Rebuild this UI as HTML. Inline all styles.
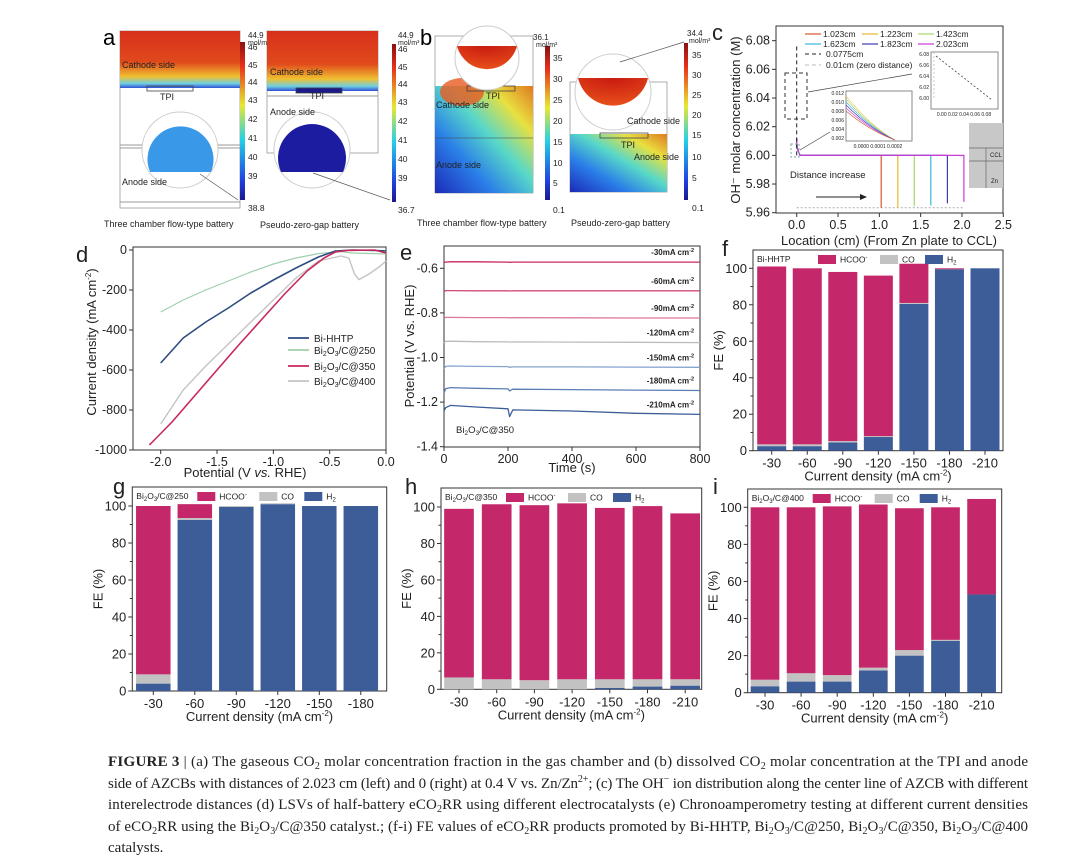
<!DOCTYPE html>
<html><head><meta charset="utf-8">
<style>
html,body{margin:0;padding:0;background:#fff;}
svg{display:block;font-family:"Liberation Sans",sans-serif;}
</style></head>
<body>
<svg id="fig" width="1080" height="867" viewBox="0 0 1080 867" xmlns="http://www.w3.org/2000/svg">
<defs>
<linearGradient id="jet" x1="0" y1="1" x2="0" y2="0">
<stop offset="0" stop-color="#1a1a8c"/><stop offset="0.12" stop-color="#1f3fe0"/><stop offset="0.38" stop-color="#22d0e8"/><stop offset="0.6" stop-color="#e8e830"/><stop offset="0.85" stop-color="#e8301a"/><stop offset="1" stop-color="#8a1010"/>
</linearGradient>
<linearGradient id="gA" x1="0" y1="0" x2="0" y2="1">
<stop offset="0" stop-color="#d8301c"/><stop offset="0.55" stop-color="#e04a1c"/><stop offset="0.8" stop-color="#f0c030"/><stop offset="0.92" stop-color="#70d0e0"/><stop offset="1" stop-color="#3050d8"/>
</linearGradient>
<linearGradient id="gB" x1="0" y1="1" x2="1" y2="0">
<stop offset="0" stop-color="#1c2ab8"/><stop offset="0.3" stop-color="#2a7ee8"/><stop offset="0.55" stop-color="#58d8c8"/><stop offset="0.78" stop-color="#e8e040"/><stop offset="1" stop-color="#e07a20"/>
</linearGradient>
<radialGradient id="gRed" cx="0.5" cy="0" r="1"><stop offset="0" stop-color="#c81a10"/><stop offset="1" stop-color="#e8501a"/></radialGradient>
</defs>

<!-- Panel a -->
<g>
<text x="103" y="45" font-size="22">a</text>
<rect x="120" y="31" width="120" height="177" fill="#fff" stroke="#999" stroke-width="0.8"/>
<rect x="120" y="31" width="120" height="57" fill="url(#gA)"/>
<line x1="120" y1="145" x2="240" y2="145" stroke="#999"/><line x1="120" y1="148" x2="240" y2="148" stroke="#999"/>
<line x1="120" y1="202" x2="240" y2="202" stroke="#999"/>
<rect x="147" y="86" width="46" height="5" fill="none" stroke="#444" stroke-width="0.8"/>
<circle cx="180" cy="150" r="38" fill="#fff" stroke="#ccc"/>
<path d="M150,172 A33,33 0 1 1 211,172 Z" fill="#3a98e8"/>
<line x1="200" y1="174" x2="238" y2="200" stroke="#555" stroke-width="0.7"/>
<text x="122" y="68" font-size="9" fill="#222">Cathode side</text>
<text x="160" y="100" font-size="9" fill="#222">TPI</text>
<text x="122" y="185" font-size="9" fill="#222">Anode side</text>
<rect x="240" y="42" width="5" height="158" fill="url(#jet)"/>
<text x="248" y="38" font-size="8" fill="#222">44.9</text><text x="248" y="45" font-size="7" fill="#222">mol/m³</text>
<g font-size="8.5" fill="#222"><text x="248" y="50">46</text><text x="248" y="68">45</text><text x="248" y="85">44</text><text x="248" y="103">43</text><text x="248" y="122">42</text><text x="248" y="141">41</text><text x="248" y="160">40</text><text x="248" y="179">39</text><text x="248" y="211">38.8</text></g>
<rect x="267" y="31" width="111" height="122" fill="#fff" stroke="#999" stroke-width="0.8"/>
<rect x="267" y="31" width="111" height="60" fill="url(#gA)"/>
<line x1="267" y1="96" x2="378" y2="96" stroke="#999"/>
<rect x="296" y="88" width="46" height="5" fill="#1a1a8c" stroke="#444" stroke-width="0.8"/>
<circle cx="312" cy="150" r="38" fill="#fff" stroke="#ccc"/>
<path d="M281,172 A34,34 0 1 1 343,172 Z" fill="#1c1ca0"/>
<line x1="313" y1="173" x2="390" y2="200" stroke="#555" stroke-width="0.7"/>
<text x="270" y="75" font-size="9" fill="#222">Cathode side</text>
<text x="310" y="99" font-size="9" fill="#222">TPI</text>
<text x="270" y="115" font-size="9" fill="#222">Anode side</text>
<rect x="392" y="44" width="4" height="158" fill="url(#jet)"/>
<text x="398" y="38" font-size="8" fill="#222">44.9</text><text x="398" y="45" font-size="7" fill="#222">mol/m³</text>
<g font-size="8.5" fill="#222"><text x="398" y="52">46</text><text x="398" y="70">45</text><text x="398" y="87">44</text><text x="398" y="105">43</text><text x="398" y="124">42</text><text x="398" y="143">41</text><text x="398" y="162">40</text><text x="398" y="181">39</text><text x="398" y="213">36.7</text></g>
<text x="104" y="227" font-size="9" fill="#222">Three chamber flow-type battery</text>
<text x="260" y="228" font-size="9" fill="#222">Pseudo-zero-gap battery</text>
</g>

<!-- Panel b -->
<g>
<text x="420" y="45" font-size="22">b</text>
<rect x="435" y="36" width="98" height="157" fill="#fff" stroke="#999" stroke-width="0.8"/>
<rect x="435" y="86" width="98" height="107" fill="url(#gB)"/>
<ellipse cx="462" cy="92" rx="22" ry="14" fill="#e85a20" opacity="0.8"/>
<line x1="435" y1="138" x2="533" y2="138" stroke="#444" stroke-width="0.6"/>
<rect x="467" y="86" width="48" height="5" fill="none" stroke="#444" stroke-width="0.8"/>
<circle cx="487" cy="58" r="32" fill="#fff" stroke="#ccc"/>
<path d="M457,46 L517,46 A31,31 0 0 1 457,46 Z" fill="url(#gRed)"/>
<text x="436" y="108" font-size="9" fill="#222">Cathode side</text>
<text x="486" y="99" font-size="9" fill="#222">TPI</text>
<text x="436" y="168" font-size="9" fill="#222">Anode side</text>
<rect x="545" y="46" width="5" height="154" fill="url(#jet)"/>
<text x="533" y="40" font-size="8" fill="#222">36.1</text><text x="536" y="47" font-size="7" fill="#222">mol/m³</text>
<g font-size="8.5" fill="#222"><text x="553" y="61">35</text><text x="553" y="82">30</text><text x="553" y="103">25</text><text x="553" y="124">20</text><text x="553" y="145">15</text><text x="553" y="166">10</text><text x="553" y="186">5</text><text x="553" y="213">0.1</text></g>
<rect x="570" y="82" width="97" height="110" fill="#fff" stroke="#999" stroke-width="0.8"/>
<rect x="570" y="134" width="97" height="58" fill="url(#gB)"/>
<rect x="600" y="133" width="48" height="5" fill="none" stroke="#444" stroke-width="0.8"/>
<circle cx="613" cy="92" r="38" fill="#fff" stroke="#ccc"/>
<path d="M578,78 L648,78 A36,36 0 0 1 578,78 Z" fill="url(#gRed)"/>
<line x1="620" y1="62" x2="684" y2="42" stroke="#555" stroke-width="0.7"/>
<text x="627" y="124" font-size="9" fill="#222">Cathode side</text>
<text x="621" y="148" font-size="9" fill="#222">TPI</text>
<text x="634" y="160" font-size="9" fill="#222">Anode side</text>
<rect x="684" y="43" width="4" height="157" fill="url(#jet)"/>
<text x="687" y="36" font-size="8" fill="#222">34.4</text><text x="689" y="43" font-size="7" fill="#222">mol/m³</text>
<g font-size="8.5" fill="#222"><text x="692" y="58">35</text><text x="692" y="78">30</text><text x="692" y="98">25</text><text x="692" y="118">20</text><text x="692" y="138">15</text><text x="692" y="160">10</text><text x="692" y="181">5</text><text x="692" y="211">0.1</text></g>
<text x="417" y="226" font-size="9" fill="#222">Three chamber flow-type battery</text>
<text x="571" y="226" font-size="9" fill="#222">Pseudo-zero-gap battery</text>
</g>

<g id="charts"></g>

<!-- Caption -->
<g font-family="'Liberation Serif',serif" font-size="15" fill="#222">
<text x="108" y="766" textLength="920" lengthAdjust="spacing"><tspan font-weight="bold">FIGURE 3</tspan> | (a) The gaseous CO<tspan font-size="10" dy="3">2</tspan><tspan dy="-3"> molar concentration fraction in the gas chamber and (b) dissolved CO</tspan><tspan font-size="10" dy="3">2</tspan><tspan dy="-3"> molar concentration at the TPI and anode</tspan></text>
<text x="108" y="788" textLength="920" lengthAdjust="spacing">side of AZCBs with distances of 2.023 cm (left) and 0 (right) at 0.4 V vs. Zn/Zn<tspan font-size="10" dy="-6">2+</tspan><tspan dy="6">; (c) The OH</tspan><tspan font-size="10" dy="-6">−</tspan><tspan dy="6"> ion distribution along the center line of AZCB with different</tspan></text>
<text x="108" y="809" textLength="920" lengthAdjust="spacing">interelectrode distances (d) LSVs of half-battery eCO<tspan font-size="10" dy="3">2</tspan><tspan dy="-3">RR using different electrocatalysts (e) Chronoamperometry testing at different current densities</tspan></text>
<text x="108" y="831" textLength="920" lengthAdjust="spacing">of eCO<tspan font-size="10" dy="3">2</tspan><tspan dy="-3">RR using the Bi</tspan><tspan font-size="10" dy="3">2</tspan><tspan dy="-3">O</tspan><tspan font-size="10" dy="3">3</tspan><tspan dy="-3">/C@350 catalyst.; (f-i) FE values of eCO</tspan><tspan font-size="10" dy="3">2</tspan><tspan dy="-3">RR products promoted by Bi-HHTP, Bi</tspan><tspan font-size="10" dy="3">2</tspan><tspan dy="-3">O</tspan><tspan font-size="10" dy="3">3</tspan><tspan dy="-3">/C@250, Bi</tspan><tspan font-size="10" dy="3">2</tspan><tspan dy="-3">O</tspan><tspan font-size="10" dy="3">3</tspan><tspan dy="-3">/C@350, Bi</tspan><tspan font-size="10" dy="3">2</tspan><tspan dy="-3">O</tspan><tspan font-size="10" dy="3">3</tspan><tspan dy="-3">/C@400</tspan></text>
<text x="108" y="852">catalysts.</text>
</g>
</svg>

<script>
// ---------- Data ----------
// Panel c
const cDistances = [1.023, 1.223, 1.423, 1.623, 1.823, 2.023];
const cEndValues = [5.9635, 5.9635, 5.9645, 5.965, 5.9665, 5.9675];
const cLabels = ["1.023cm","1.223cm","1.423cm","1.623cm","1.823cm","2.023cm"];
const cXTicks = [0.0, 0.5, 1.0, 1.5, 2.0, 2.5];
const cYTicks = [5.96, 5.98, 6.00, 6.02, 6.04, 6.06, 6.08];
// Panel d
const dXTicks = [-2.0, -1.5, -1.0, -0.5, 0.0];
const dYTicks = [0, -200, -400, -600, -800, -1000];
const dNames = ["Bi-HHTP","Bi2O3/C@250","Bi2O3/C@350","Bi2O3/C@400"];
const dHHTPx = [-2.0,-1.8,-1.6,-1.4,-1.2,-1.0,-0.8,-0.6,-0.45,-0.3,-0.1,0];
const dHHTPy = [-565,-440,-360,-290,-215,-150,-90,-35,-5,0,-2,-5];
const d250x = [-2.0,-1.8,-1.6,-1.4,-1.2,-1.0,-0.8,-0.6,-0.4,-0.3,-0.1,0];
const d250y = [-310,-250,-200,-155,-110,-70,-40,-18,-8,-15,-18,-20];
const d350x = [-2.1,-1.9,-1.7,-1.5,-1.3,-1.1,-0.9,-0.7,-0.55,-0.45,-0.35,-0.1,0];
const d350y = [-975,-860,-730,-600,-470,-345,-220,-105,-40,-10,-2,0,-15];
const d400x = [-2.0,-1.8,-1.6,-1.4,-1.2,-1.0,-0.8,-0.6,-0.4,-0.33,-0.28,-0.24,-0.15,-0.05,0];
const d400y = [-870,-700,-580,-470,-360,-250,-140,-55,-30,-40,-120,-148,-120,-80,-55];
// Panel e
const eXTicks = [0, 200, 400, 600, 800];
const eYTicks = [-0.6, -0.8, -1.0, -1.2, -1.4];
const eLabels = ["-30mA cm","-60mA cm","-90mA cm","-120mA cm","-150mA cm","-180mA cm","-210mA cm"];
const eTime = [0, 5, 20, 100, 200, 205, 215, 400, 600, 800];
const e30 = [-0.575,-0.572,-0.571,-0.571,-0.572,-0.573,-0.572,-0.572,-0.572,-0.572];
const e60 = [-0.705,-0.700,-0.700,-0.701,-0.701,-0.702,-0.701,-0.701,-0.701,-0.701];
const e90 = [-0.825,-0.820,-0.820,-0.821,-0.821,-0.822,-0.821,-0.822,-0.823,-0.823];
const e120 = [-0.935,-0.928,-0.927,-0.929,-0.930,-0.931,-0.930,-0.931,-0.932,-0.933];
const e150 = [-1.050,-1.040,-1.038,-1.040,-1.041,-1.044,-1.042,-1.042,-1.043,-1.044];
const e180 = [-1.160,-1.140,-1.135,-1.138,-1.141,-1.150,-1.142,-1.144,-1.146,-1.148];
const e210 = [-1.240,-1.225,-1.215,-1.222,-1.230,-1.265,-1.235,-1.240,-1.250,-1.255];
// Bar charts
const fCats = ["-30","-60","-90","-120","-150","-180","-210"];
const fH2 = [2.5, 2.5, 4.5, 7.5, 80.5, 99.5, 100];
const fCO = [1, 1, 0.8, 0.5, 0.5, 0, 0];
const fHCOO = [97.5, 96.5, 92.7, 88, 21.5, 0.5, 0];
const gCats = ["-30","-60","-90","-120","-150","-180"];
const gH2 = [4, 92.5, 99.5, 101, 100, 100];
const gCO = [5, 1, 0.5, 0.5, 0, 0];
const gHCOO = [91, 7.5, 0, 0, 0, 0];
const hCats = ["-30","-60","-90","-120","-150","-180","-210"];
const hH2 = [0, 0, 0, 0, 0.8, 1.5, 2];
const hCO = [6.5, 5.5, 5, 5.5, 4.7, 4, 3.5];
const hHCOO = [92.5, 96, 96, 96.5, 94, 95, 91];
const iCats = ["-30","-60","-90","-120","-150","-180","-210"];
const iH2 = [3.5, 6, 6, 12, 20, 28, 53];
const iCO = [3.5, 4.5, 3.5, 1.5, 3, 0.5, 0];
const iHCOO = [93, 89.5, 91, 88, 76.5, 71.5, 51.5];
const feTicks = [0, 20, 40, 60, 80, 100];

// ---------- Helpers ----------
const NS = "http://www.w3.org/2000/svg";
const root = document.getElementById("charts");
function mk(tag, attrs, parent) {
  const el = document.createElementNS(NS, tag);
  for (const k in attrs) el.setAttribute(k, attrs[k]);
  (parent || root).appendChild(el);
  return el;
}
function txt(x, y, s, size, parent, anchor) {
  const t = mk("text", {x: x, y: y, "font-size": size, "text-anchor": anchor || "start", fill: "#222"}, parent);
  t.textContent = s;
  return t;
}
function poly(pts, color, w, parent, dash) {
  const p = mk("polyline", {points: pts.map(p => p[0].toFixed(1) + "," + p[1].toFixed(1)).join(" "), fill: "none", stroke: color, "stroke-width": w, "stroke-linejoin": "round"}, parent);
  if (dash) p.setAttribute("stroke-dasharray", dash);
  return p;
}

// ---------- Panel c ----------
(function () {
  const g = mk("g", {});
  
  
  const L = 776, R = 1003, T = 26, B = 213;
  const xs = v => 796.7 + v * 82.64;
  const ys = v => 212.7 - (v - 5.96) * 1433.5;
  txt(712, 40, "c", 22, g);
  mk("rect", {x: L, y: T, width: R - L, height: B - T, fill: "none", stroke: "#333", "stroke-width": 1}, g);
  cYTicks.forEach(v => {
    mk("line", {x1: L - 4, y1: ys(v), x2: L, y2: ys(v), stroke: "#333"}, g);
    txt(L - 6, ys(v) + 4, v.toFixed(2), 12.5, g, "end");
  });
  cXTicks.forEach(v => {
    mk("line", {x1: xs(v), y1: B, x2: xs(v), y2: B + 4, stroke: "#333"}, g);
    txt(xs(v), B + 16, v.toFixed(1), 12.5, g, "middle");
  });
  const yl = txt(0, 0, "OH⁻ molar concentration (M)", 13, g, "middle");
  yl.setAttribute("transform", "translate(740,120) rotate(-90)");
  
  txt(889, 245, "Location (cm) (From Zn plate to CCL)", 13, g, "middle");
  const colors = ["#d9542c", "#e8b832", "#a8d86a", "#38b8e0", "#3a3ab8", "#c83ad8"];
  poly([[xs(0.0), ys(5.9635)], [xs(2.03), ys(5.9635)]], "#aaa", 1, g, "2,2");
  cDistances.forEach((d, i) => {
    const l = poly([[xs(0.0), ys(6.012)], [xs(0.005), ys(6.005)], [xs(0.04), ys(6.0)], [xs(d), ys(6.0)], [xs(d), ys(cEndValues[i])]], colors[i], 1.2, g);
    
    
  });
  poly([[xs(0.0), ys(6.0)], [xs(0.0), ys(6.076)]], "#222", 1, g, "4,3");
  mk("rect", {x: 785, y: 73, width: 22, height: 46, fill: "none", stroke: "#333", "stroke-dasharray": "4,3"}, g);
  mk("rect", {x: 791, y: 144, width: 8, height: 13, fill: "none", stroke: "#7aa", "stroke-dasharray": "2,2"}, g);
  mk("line", {x1: 808, y1: 92, x2: 912, y2: 74, stroke: "#444", "stroke-width": 0.7}, g);
  mk("line", {x1: 800, y1: 150, x2: 830, y2: 132, stroke: "#444", "stroke-width": 0.7}, g);
  mk("rect", {x: 931, y: 52, width: 67, height: 57, fill: "#fff", stroke: "#888"}, g);
  poly([[936, 56], [992, 100]], "#444", 0.8, g, "2,2");
  poly([[934, 52], [934, 100]], "#bbb", 0.8, g, "2,2");
  ["6.08", "6.06", "6.04", "6.02", "6.00"].forEach((s, i) => txt(929, 56 + i * 11, s, 5, g, "end"));
  txt(964, 116, "0.00 0.02 0.04 0.06 0.08", 5, g, "middle");
  mk("rect", {x: 846, y: 91, width: 66, height: 50, fill: "#fff", stroke: "#888"}, g);
  ["#e8b832", "#a8d86a", "#38b8e0", "#3a3ab8", "#c83ad8", "#d9542c"].forEach((c, i) => {
    mk("path", {d: `M846,${96 + i * 3} Q870,${126 + i} 895,140`, fill: "none", stroke: c, "stroke-width": 0.6}, g);
  });
  ["0.012", "0.010", "0.008", "0.006", "0.004", "0.002"].forEach((s, i) => txt(844, 95 + i * 9, s, 5, g, "end"));
  txt(878, 148, "0.0000      0.0001      0.0002", 5, g, "middle");
  mk("rect", {x: 969, y: 123, width: 34, height: 65, fill: "#c8c8c8"}, g);
  mk("line", {x1: 969, y1: 148, x2: 1003, y2: 148, stroke: "#666", "stroke-width": 0.7}, g);
  mk("line", {x1: 969, y1: 161, x2: 1003, y2: 161, stroke: "#666", "stroke-width": 0.7}, g);
  mk("line", {x1: 986, y1: 148, x2: 986, y2: 188, stroke: "#666", "stroke-width": 0.7}, g);
  txt(990, 157, "CCL", 6, g); txt(991, 183, "Zn", 6, g);
  txt(790, 178, "Distance increase", 9.5, g);
  mk("line", {x1: 816, y1: 197, x2: 860, y2: 197, stroke: "#222", "stroke-width": 1}, g);
  mk("path", {d: "M860,194 L867,197 L860,200 Z", fill: "#222"}, g);
  const lp = [[805, 34], [862, 34], [918, 34], [805, 44], [862, 44], [918, 44]];
  cLabels.forEach((s, i) => {
    mk("line", {x1: lp[i][0], y1: lp[i][1], x2: lp[i][0] + 16, y2: lp[i][1], stroke: colors[i], "stroke-width": 1.2}, g);
    txt(lp[i][0] + 18, lp[i][1] + 3, s, 8.5, g);
  });
  mk("line", {x1: 805, y1: 54, x2: 821, y2: 54, stroke: "#222", "stroke-dasharray": "4,3"}, g);
  txt(826, 57, "0.0775cm", 8.5, g);
  mk("line", {x1: 805, y1: 65, x2: 821, y2: 65, stroke: "#bbb", "stroke-dasharray": "4,3"}, g);
  txt(826, 68, "0.01cm (zero distance)", 8.5, g);
})();

// ---------- Panel d ----------
(function () {
  const g = mk("g", {});
  
  
  const L = 133, R = 386, T = 247, B = 450;
  const xs = v => 386 + v * 112.65;
  const ys = v => 250 - v * 0.2;
  txt(76, 262, "d", 22, g);
  mk("rect", {x: L, y: T, width: R - L, height: B - T, fill: "none", stroke: "#333"}, g);
  dYTicks.forEach(v => {
    mk("line", {x1: L - 4, y1: ys(v), x2: L, y2: ys(v), stroke: "#333"}, g);
    txt(L - 6, ys(v) + 4, String(v), 12.5, g, "end");
  });
  dXTicks.forEach(v => {
    mk("line", {x1: xs(v), y1: B, x2: xs(v), y2: B + 4, stroke: "#333"}, g);
    txt(xs(v), B + 16, v.toFixed(1), 12.5, g, "middle");
  });
  const t = txt(245, 477, "", 13, g, "middle");
  t.innerHTML = 'Potential (V <tspan font-style="italic">vs.</tspan> RHE)';
  const yl = txt(0, 0, "", 13, g, "middle");
  yl.innerHTML = 'Current density (mA cm<tspan font-size="8" dy="-5">-2</tspan><tspan dy="5">)</tspan>';
  yl.setAttribute("transform", "translate(96,342) rotate(-90)");
  const series = [[d250x, d250y, "#a0cfae", 1.2], [d400x, d400y, "#c4c4c4", 1.4], [dHHTPx, dHHTPy, "#2f4d80", 1.6], [d350x, d350y, "#c8285a", 1.6]];
  const nameIdx = [1, 3, 0, 2];
  series.forEach((s, k) => {
    const l = poly(s[0].map((x, i) => [xs(x), ys(s[1][i])]), s[2], s[3], g);
    
    
  });
  const lc = ["#2f4d80", "#a0cfae", "#c8285a", "#c4c4c4"];
  const ly = [338, 350, 366, 381];
  const lt = ['Bi-HHTP', 'Bi<tspan font-size="7" dy="2">2</tspan><tspan dy="-2">O</tspan><tspan font-size="7" dy="2">3</tspan><tspan dy="-2">/C@250</tspan>',
    'Bi<tspan font-size="7" dy="2">2</tspan><tspan dy="-2">O</tspan><tspan font-size="7" dy="2">3</tspan><tspan dy="-2">/C@350</tspan>',
    'Bi<tspan font-size="7" dy="2">2</tspan><tspan dy="-2">O</tspan><tspan font-size="7" dy="2">3</tspan><tspan dy="-2">/C@400</tspan>'];
  lc.forEach((c, i) => {
    mk("line", {x1: 288, y1: ly[i], x2: 309, y2: ly[i], stroke: c, "stroke-width": 1.8}, g);
    const tt = txt(314, ly[i] + 4, "", 10, g);
    tt.innerHTML = lt[i];
    
    
  });
})();

// ---------- Panel e ----------
(function () {
  const g = mk("g", {});
  
  
  const L = 444, R = 700, T = 246, B = 447;
  const xs = v => 444 + v * 0.32;
  const ys = v => 268.3 - (v + 0.6) * 223;
  txt(400, 260, "e", 22, g);
  mk("rect", {x: L, y: T, width: R - L, height: B - T, fill: "none", stroke: "#333"}, g);
  eYTicks.forEach(v => {
    mk("line", {x1: L - 4, y1: ys(v), x2: L, y2: ys(v), stroke: "#333"}, g);
    txt(L - 6, ys(v) + 4, v.toFixed(1), 12.5, g, "end");
  });
  eXTicks.forEach(v => {
    mk("line", {x1: xs(v), y1: B, x2: xs(v), y2: B + 4, stroke: "#333"}, g);
    txt(xs(v), B + 16, String(v), 12.5, g, "middle");
  });
  txt(572, 472, "Time (s)", 13, g, "middle");
  const yl = txt(0, 0, "Potential (V vs. RHE)", 13, g, "middle");
  yl.setAttribute("transform", "translate(414,346) rotate(-90)");
  const series = [e30, e60, e90, e120, e150, e180, e210];
  const colors = ["#c8285a", "#d04a76", "#dc7898", "#bcbcbc", "#86a4cc", "#5b7fb5", "#3b5e98"];
  series.forEach((s, i) => {
    const l = poly(eTime.map((t, k) => [xs(t), ys(s[k])]), colors[i], 1.3, g);
    
    
    const tt = txt(694, ys(s[9]) - 7, "", 8, g, "end");
    tt.setAttribute("font-weight", "bold");
    tt.innerHTML = eLabels[i] + '<tspan font-size="5.5" dy="-3">-2</tspan>';
  });
  const bt = txt(456, 433, "", 9.5, g);
  bt.innerHTML = 'Bi<tspan font-size="6.5" dy="2">2</tspan><tspan dy="-2">O</tspan><tspan font-size="6.5" dy="2">3</tspan><tspan dy="-2">/C@350</tspan>';
})();

// ---------- Bar charts ----------
function barChart(o) {
  const g = mk("g", {});
  
  
  const ys = v => o.y0 - v * o.ppu;
  const xs = i => o.c0 + i * o.sp;
  txt(o.lx, o.ly, o.letter, 22, g);
  mk("rect", {x: o.L, y: o.T, width: o.R - o.L, height: o.y0 - o.T, fill: "none", stroke: "#333"}, g);
  for (let v = 0; v <= 100; v += 10) {
    const major = v % 20 === 0;
    mk("line", {x1: o.L - (major ? 4 : 2.5), y1: ys(v), x2: o.L, y2: ys(v), stroke: "#333"}, g);
  }
  feTicks.forEach(v => txt(o.L - 6, ys(v) + 4.5, String(v), 13, g, "end"));
  o.cats.forEach((c, i) => {
    mk("line", {x1: xs(i), y1: o.y0, x2: xs(i), y2: o.y0 + 4, stroke: "#333"}, g);
    txt(xs(i), o.y0 + 17, c, 13, g, "middle");
    const segs = [[o.h2[i], "#3d5d99", "H2"], [o.co[i], "#c2c2c2", "CO"], [o.hc[i], "#c4286a", "HCOO"]];
    let base = 0;
    segs.forEach(s => {
      if (s[0] > 0) {
        const r = mk("rect", {x: xs(i) - o.bw / 2, y: ys(base + s[0]), width: o.bw, height: s[0] * o.ppu, fill: s[1]}, g);
        
        
      }
      base += s[0];
    });
  });
  const xt = txt((o.L + o.R) / 2, o.y0 + 30, "", 13, g, "middle");
  xt.innerHTML = 'Current density (mA cm<tspan font-size="8" dy="-5">-2</tspan><tspan dy="5">)</tspan>';
  const yl = txt(0, 0, "FE (%)", 13, g, "middle");
  yl.setAttribute("transform", `translate(${o.L - 30},${(o.T + o.y0) / 2}) rotate(-90)`);
  const ly = o.T + 9;
  const lab = txt(o.L + 4, ly + 3, "", 8.5, g);
  lab.innerHTML = o.label;
  const items = [[65, "#c4286a", 'HCOO<tspan font-size="6" dy="-3">-</tspan>'], [127, "#c2c2c2", "CO"], [172, "#3d5d99", 'H<tspan font-size="6" dy="2">2</tspan>']];
  items.forEach(it => {
    mk("rect", {x: o.L + it[0], y: ly - 4, width: 18, height: 9, fill: it[1]}, g);
    const t = txt(o.L + it[0] + 22, ly + 3.5, "", 8.5, g);
    t.innerHTML = it[2];
    
    
  });
}
const bi = s => 'Bi<tspan font-size="6" dy="2">2</tspan><tspan dy="-2">O</tspan><tspan font-size="6" dy="2">3</tspan><tspan dy="-2">/C@' + s + '</tspan>';
barChart({name: "panel-f-fe-bi-hhtp", letter: "f", lx: 722, ly: 256, L: 753, R: 1003, T: 250, y0: 450.7, ppu: 1.824, c0: 771.7, sp: 35.55, bw: 29, cats: fCats, h2: fH2, co: fCO, hc: fHCOO, label: "Bi-HHTP"});
barChart({name: "panel-g-fe-250", letter: "g", lx: 113, ly: 494, L: 132.3, R: 386.7, T: 487, y0: 691, ppu: 1.85, c0: 153.3, sp: 41.5, bw: 34.5, cats: gCats, h2: gH2, co: gCO, hc: gHCOO, label: bi("250")});
barChart({name: "panel-h-fe-350", letter: "h", lx: 405, ly: 494, L: 441, R: 701.7, T: 488, y0: 689.3, ppu: 1.823, c0: 459, sp: 37.7, bw: 29.7, cats: hCats, h2: hH2, co: hCO, hc: hHCOO, label: bi("350")});
barChart({name: "panel-i-fe-400", letter: "i", lx: 713, ly: 494, L: 747.7, R: 1001.7, T: 489, y0: 692.7, ppu: 1.854, c0: 765, sp: 36.1, bw: 28.7, cats: iCats, h2: iH2, co: iCO, hc: iHCOO, label: bi("400")});
</script>
</body></html>
